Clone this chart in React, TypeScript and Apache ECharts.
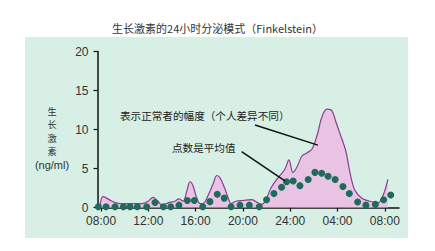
import React, { useEffect, useRef } from "react";
import * as echarts from "echarts";

// Upper limit of the normal range (pink band), hours since 00:00 of day 1
const envelopeHours = [7.92, 8.17, 8.93, 9.6, 10.45, 11.47, 11.97, 12.4, 12.82, 13.16, 13.66, 14.25, 14.59, 14.93, 15.27, 15.52, 15.78, 16.03, 16.37, 16.62, 17.04, 17.47, 17.8, 18.06, 18.4, 18.74, 18.99, 19.41, 20.0, 20.76, 21.27, 21.61, 21.95, 22.37, 22.96, 23.55, 23.89, 24.23, 24.57, 24.99, 25.41, 25.84, 26.26, 26.68, 27.1, 27.53, 27.86, 28.2, 28.71, 29.05, 29.47, 30.06, 30.74, 31.41, 31.84, 32.26];
const envelopeValues = [0.2, 1.4, 0.8, 0.5, 0.5, 0.5, 0.8, 1.3, 0.8, 0.3, 0.6, 0.8, 1.1, 0.8, 2.2, 3.3, 2.8, 1.5, 0.5, 0.5, 1.5, 3.0, 4.1, 3.8, 2.7, 1.3, 0.5, 0.8, 0.9, 1.0, 0.6, 0.4, 1.0, 2.5, 3.8, 4.9, 6.1, 4.5, 5.2, 6.6, 7.0, 7.5, 9.2, 11.6, 12.6, 12.4, 11.0, 9.5, 7.2, 4.5, 2.2, 1.2, 0.8, 0.6, 1.5, 3.6];

// Mean values (dots)
const meanHours = [7.77, 8.42, 9.18, 9.89, 10.45, 11.07, 11.86, 12.56, 13.27, 13.89, 14.59, 15.3, 15.89, 16.6, 17.21, 17.83, 18.42, 19.0, 19.75, 20.54, 21.38, 22.0, 22.62, 23.27, 23.69, 24.25, 24.82, 25.52, 26.09, 26.66, 27.2, 27.8, 28.46, 29.0, 29.7, 30.4, 31.2, 31.9, 32.5];
const meanValues = [0.1, 0.1, 0.1, 0.1, 0.1, 0.1, 0.1, 0.65, 0.1, 0.1, 0.3, 0.9, 0.9, 0.1, 0.75, 1.7, 1.2, 0.1, 0.3, 0.3, 0.1, 1.0, 1.8, 2.6, 3.3, 3.4, 2.8, 3.6, 4.5, 4.4, 4.0, 3.6, 2.7, 1.8, 0.7, 0.3, 0.4, 1.0, 1.6];

const xTickHours = [8, 12, 16, 20, 24, 28, 32];
const yTicks = [0, 5, 10, 15, 20];

const titleText = "生长激素的24小时分泌模式（Finkelstein）";
const yNameChars = ["生", "长", "激", "素"];
const yUnit = "(ng/ml)";
const rangeNote = "表示正常者的幅度（个人差异不同）";
const meanNote = "点数是平均值";

export default function App() {
  const ref = useRef<HTMLDivElement>(null);
  useEffect(() => {
    if (!ref.current) return;
    const chart = echarts.init(ref.current, undefined, { renderer: "svg" });
    const fmt = (v: number) => {
      const h = v === 24 ? 24 : v % 24;
      return (h < 10 ? "0" + h : "" + h) + ":00";
    };
    chart.setOption({
      animation: false,
      backgroundColor: "#ffffff",
      title: {
        text: titleText,
        left: "center",
        top: 17,
        textStyle: { fontSize: 11, fontWeight: "normal", color: "#333", fontFamily: "Noto Sans CJK SC" },
      },
      grid: { left: 97.5, right: 36, top: 51.5, bottom: 43.5 },
      xAxis: {
        type: "value",
        min: 7.7,
        max: 33.2,
        splitLine: { show: false },
        axisLine: { show: true, lineStyle: { color: "#111", width: 1.5 } },
        axisTick: { show: true, length: 4, lineStyle: { color: "#111", width: 1.2 }, customValues: xTickHours },
        axisLabel: {
          customValues: xTickHours,
          formatter: fmt,
          fontSize: 12,
          color: "#333",
          margin: 7,
          fontFamily: "Liberation Sans, Arial, sans-serif",
        },
      },
      yAxis: {
        type: "value",
        min: yTicks[0],
        max: yTicks[yTicks.length - 1],
        interval: 5,
        splitLine: { show: false },
        axisLine: { show: true, lineStyle: { color: "#111", width: 1.5 } },
        axisTick: { show: true, length: 4, lineStyle: { color: "#111", width: 1.2 } },
        axisLabel: { fontSize: 12, color: "#333", margin: 9, fontFamily: "Liberation Sans, Arial, sans-serif" },
      },
      graphic: [
        {
          type: "rect",
          z: -10,
          silent: true,
          shape: { x: 25, y: 37, width: 383, height: 201 },
          style: { fill: "#d7efe4" },
        },
        {
          type: "text",
          x: 52,
          y: 104,
          style: {
            text: yNameChars.join("\n"),
            fontSize: 9.2,
            lineHeight: 13.5,
            fill: "#333",
            align: "center",
            verticalAlign: "top",
            fontFamily: "Noto Sans CJK SC",
          },
        },
        {
          type: "text",
          x: 52,
          y: 159,
          style: {
            text: yUnit,
            fontSize: 11,
            fill: "#333",
            align: "center",
            verticalAlign: "top",
            fontFamily: "Liberation Sans, Arial, sans-serif",
          },
        },
        {
          type: "text",
          x: 120,
          y: 110.5,
          style: { text: rangeNote, fontSize: 10.6, fill: "#222", fontFamily: "Noto Sans CJK SC" },
        },
        {
          type: "text",
          x: 172,
          y: 142,
          style: { text: meanNote, fontSize: 10.6, fill: "#222", fontFamily: "Noto Sans CJK SC" },
        },
      ],
      series: [
        {
          type: "line",
          data: envelopeHours.map((h, i) => [h, envelopeValues[i]]),
          smooth: 0.35,
          symbol: "none",
          lineStyle: { color: "#8c3d92", width: 1.2 },
          areaStyle: { color: "#e8c3e3", opacity: 1, origin: "start" },
          z: 2,
          markLine: {
            silent: true,
            symbol: "none",
            label: { show: false },
            lineStyle: { color: "#111", width: 1.5, type: "solid" },
            data: [
              [{ coord: [21.02, 10.58] }, { coord: [26.34, 8.0] }],
              [{ coord: [19.89, 7.15] }, { coord: [23.55, 3.4] }],
            ],
          },
        },
        {
          type: "scatter",
          data: meanHours.map((h, i) => [h, meanValues[i]]),
          symbolSize: 7,
          itemStyle: { color: "#1d6b5b", opacity: 1 },
          z: 4,
        },
      ],
    });
    return () => chart.dispose();
  }, []);
  return <div ref={ref} style={{ position: "fixed", left: 0, top: 0, width: 435, height: 251 }} />;
}
